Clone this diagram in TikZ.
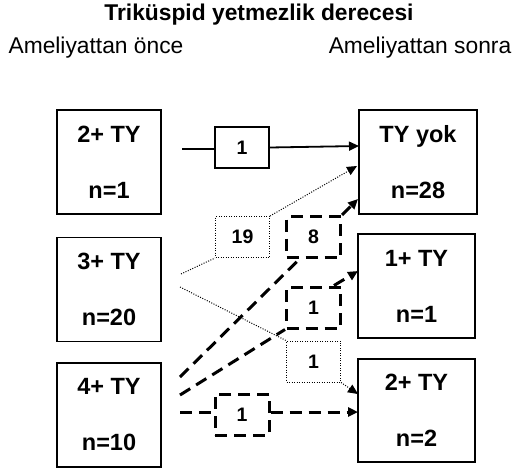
\documentclass[tikz,border=0pt]{standalone}
\usepackage{fontspec}
\setmainfont{Liberation Sans}
\usetikzlibrary{arrows.meta}
\begin{document}
\begin{tikzpicture}[x=1pt,y=-1pt,
  bigbox/.style={draw, line width=1.3pt, minimum width=104pt, minimum height=104pt, inner sep=0pt, align=center, font=\fontsize{23.5}{56}\selectfont\bfseries},
  rbox/.style={bigbox, minimum width=117pt},
  lab/.style={minimum width=54pt, minimum height=41pt, inner sep=0pt, font=\fontsize{19.5}{22}\selectfont\bfseries},
  solidlab/.style={lab, draw, line width=1.3pt},
  dotlab/.style={lab, draw, line width=1pt, dash pattern=on 1pt off 1.5pt},
  dashlab/.style={lab, draw, line width=3pt, dash pattern=on 12pt off 7pt},
  dotline/.style={line width=1pt, dash pattern=on 1pt off 1.5pt},
  dashline/.style={line width=3pt, dash pattern=on 12pt off 7pt},
  solidline/.style={line width=1.8pt},
  tip/.style={-{Triangle[length=10pt,width=9pt]}},
]
\useasboundingbox (0,0) rectangle (513,471);
\node[font=\fontsize{22.8}{26}\selectfont\bfseries] (title) at (259,15) {Triküspid yetmezlik derecesi};
\node[font=\fontsize{22.8}{26}\selectfont] (pre) at (96,48) {Ameliyattan önce};
\node[font=\fontsize{22.8}{26}\selectfont] (post) at (420,48) {Ameliyattan sonra};

\node[bigbox] (l1) at (109,162) {2+ TY\\n=1};
\node[bigbox] (l2) at (109,289.5) {3+ TY\\n=20};
\node[bigbox] (l3) at (109,415) {4+ TY\\n=10};

\node[rbox, minimum width=118pt] (r1) at (418,162) {TY yok\\n=28};
\node[rbox] (r2) at (416.5,286) {1+ TY\\n=1};
\node[rbox, minimum height=103pt] (r3) at (416.5,410.5) {2+ TY\\n=2};

\node[solidlab] (b1) at (242,147.5) {1};
\node[dotlab] (b19) at (242.5,237) {19};
\node[dashlab] (b8) at (313.5,237) {8};
\node[dashlab] (bm) at (313.5,307.5) {1};
\node[dotlab] (bl) at (313.5,361.5) {1};
\node[dashlab] (bb) at (242,414.5) {1};

% start points and arrow tips
\coordinate (s1) at (182,149);
\coordinate (s19) at (181,274);
\coordinate (sl) at (180,287);
\coordinate (s8) at (180,377);
\coordinate (sm) at (180,395);
\coordinate (sb) at (180,412);
\coordinate (t1) at (359,146);
\coordinate (t19) at (357,166);
\coordinate (t8) at (358,199);
\coordinate (tm) at (358,271);
\coordinate (tl) at (358,394);
\coordinate (tb) at (358,412);

\draw[solidline] (s1) -- (b1.west |- s1);
\draw[solidline, tip] (b1.east) -- (t1);

\draw[dotline] (s19) -- (b19.south west);
\draw[dotline, tip] (b19.north east) -- (t19);

\draw[dotline] (sl) -- (bl.north west);
\draw[dotline, tip] (bl.south east) -- (tl);

\draw[dashline] (s8) -- ([xshift=-14pt]b8.south);
\draw[dashline, tip] (b8.north east) -- (t8);

\draw[dashline] (sm) -- (bm.south west);
\draw[dashline, tip] ([xshift=-8pt]bm.north east) -- (tm);

\draw[dashline] (sb) -- (bb.west |- sb);
\draw[dashline, tip] (bb.east |- sb) -- (tb);
\end{tikzpicture}
\end{document}
